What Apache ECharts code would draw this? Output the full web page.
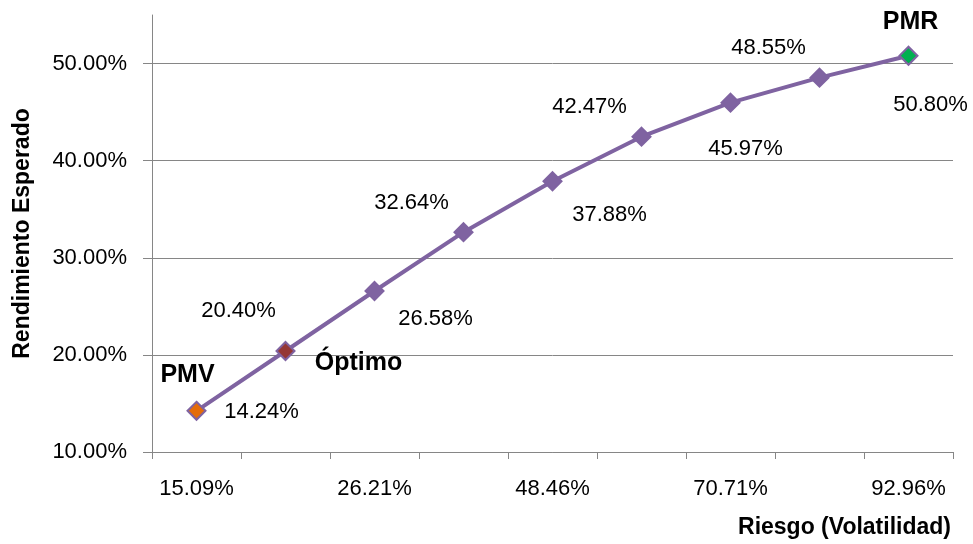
<!DOCTYPE html>
<html><head><meta charset="utf-8">
<script src="https://cdn.jsdelivr.net/npm/echarts@6/dist/echarts.min.js"></script>
<style>html,body{margin:0;padding:0;background:#fff}#c{width:973px;height:544px}</style>
</head><body><div id="c"></div>
<script>
// Data
var categories = ['15.09%', '20.65%', '26.21%', '37.33%', '48.46%', '59.58%', '70.71%', '81.83%', '92.96%'];
var returns = [14.24, 20.40, 26.58, 32.64, 37.88, 42.47, 45.97, 48.55, 50.80];
var pointNames = ['PMV', 'Óptimo', '', '', '', '', '', '', 'PMR'];
var yTicks = [10, 20, 30, 40, 50];

// Styling (not data)
var FONT = 'Liberation Sans';
var purple = '#7F63A1';
var markerFill = ['#E46C0A', '#953735', purple, purple, purple, purple, purple, purple, '#00B050'];
var valueOffsets = [[65, 1], [-47, -40], [61, 28], [-52, -29], [57, 34], [-52, -30], [15, 46], [-51, -30], [22, 49]];
var nameOffsets = [[-9, -36], [73, 12], [0,0], [0,0], [0,0], [0,0], [0,0], [0,0], [2, -34]];

var lineData = returns.map(function (v, i) {
  return {
    value: v,
    itemStyle: { color: markerFill[i], borderColor: purple, borderWidth: 2 },
    label: { offset: valueOffsets[i] }
  };
});
var nameData = returns.map(function (v, i) {
  if (!pointNames[i]) return '-';
  return { value: v, name: pointNames[i], label: { offset: nameOffsets[i] } };
});

var chart = echarts.init(document.getElementById('c'), null, { renderer: 'canvas' });
chart.setOption({
  animation: false,
  grid: { left: 152, right: 20, top: 15, bottom: 92, containLabel: false },
  xAxis: {
    type: 'category',
    data: categories,
    boundaryGap: true,
    name: 'Riesgo (Volatilidad)',
    nameLocation: 'end',
    nameGap: 0,
    nameTextStyle: { fontFamily: FONT, fontWeight: 'bold', fontSize: 23, color: '#000',
      align: 'right', verticalAlign: 'top', padding: [64, 2, 0, 0] },
    axisLine: { lineStyle: { color: '#868686', width: 1 } },
    axisTick: { show: true, interval: 0, length: 7, lineStyle: { color: '#868686' } },
    axisLabel: { interval: 1, margin: 26, fontFamily: FONT, fontSize: 22, color: '#000' },
    splitLine: { show: false }
  },
  yAxis: {
    type: 'value',
    min: 10, max: 55, interval: 10,
    name: 'Rendimiento Esperado',
    nameLocation: 'middle',
    nameGap: 118,
    nameRotate: 90,
    nameTextStyle: { fontFamily: FONT, fontWeight: 'bold', fontSize: 23, color: '#000' },
    axisLine: { show: true, lineStyle: { color: '#868686', width: 1 } },
    axisTick: { show: true, length: 9, customValues: yTicks, lineStyle: { color: '#868686' } },
    axisLabel: { customValues: yTicks, margin: 25, fontFamily: FONT, fontSize: 22, color: '#000',
      formatter: function (v) { return v.toFixed(2) + '%'; } },
    splitLine: { show: true, lineStyle: { color: '#868686', width: 1 } }
  },
  series: [
    {
      type: 'line',
      data: lineData,
      symbol: 'diamond',
      symbolSize: 18,
      lineStyle: { color: purple, width: 4 },
      label: {
        show: true, position: 'inside', fontFamily: FONT, fontSize: 22, color: '#000',
        align: 'center', verticalAlign: 'middle',
        formatter: function (p) { return p.value.toFixed(2) + '%'; }
      },
      z: 3
    },
    {
      type: 'scatter',
      data: nameData,
      symbolSize: 2,
      itemStyle: { color: '#ffffff', opacity: 1 },
      label: {
        show: true, position: 'inside', fontFamily: FONT, fontWeight: 'bold', fontSize: 25, color: '#000',
        textBorderWidth: 0, opacity: 1,
        align: 'center', verticalAlign: 'middle',
        formatter: function (p) { return p.name; }
      },
      z: 2
    }
  ]
});
</script></body></html>
